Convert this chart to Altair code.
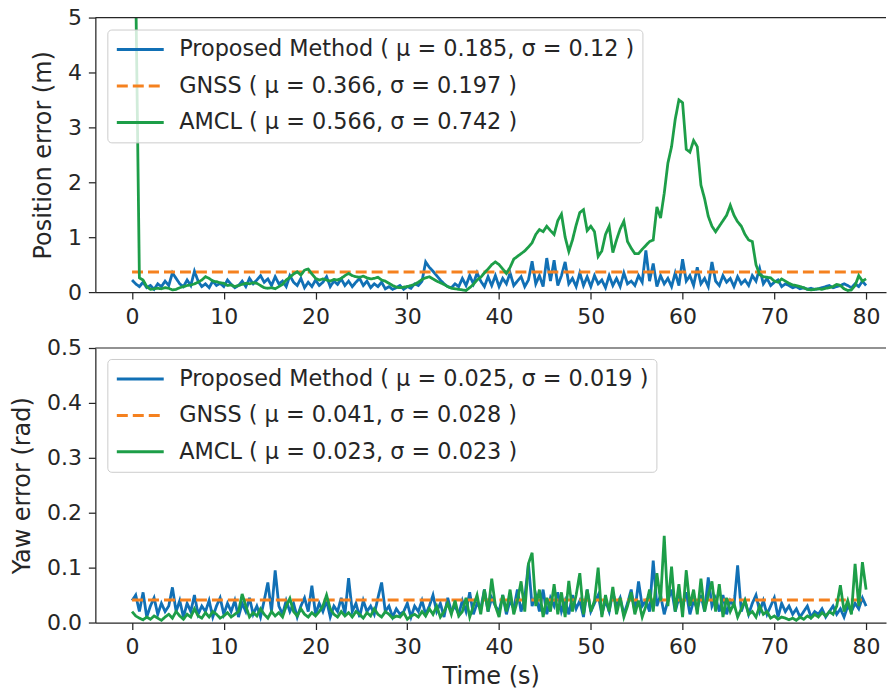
import altair as alt
import pandas as pd

# time grid (s), one sample every 0.4 s
time_s = [round(i * 0.4, 1) for i in range(201)]

# ---------------- position error (m) ----------------
pos_proposed = [
    0.22, 0.15, 0.10, 0.18, 0.08, 0.12, 0.05, 0.15, 0.10, 0.20,
    0.12, 0.35, 0.25, 0.15, 0.10, 0.22, 0.12, 0.38, 0.20, 0.10,
    0.15, 0.08, 0.20, 0.12, 0.16, 0.10, 0.22, 0.14, 0.08, 0.12,
    0.20, 0.10, 0.25, 0.15, 0.22, 0.30, 0.18, 0.24, 0.12, 0.28,
    0.15, 0.20, 0.10, 0.30, 0.18, 0.12, 0.25, 0.08, 0.18, 0.10,
    0.22, 0.12, 0.18, 0.28, 0.10, 0.20, 0.14, 0.24, 0.12, 0.20,
    0.10, 0.18, 0.25, 0.12, 0.20, 0.08, 0.15, 0.10, 0.18, 0.06,
    0.10, 0.05, 0.08, 0.12, 0.05, 0.10, 0.07, 0.15, 0.12, 0.20,
    0.55, 0.45, 0.38, 0.30, 0.22, 0.15, 0.10, 0.08, 0.15, 0.10,
    0.25, 0.12, 0.30, 0.15, 0.35, 0.20, 0.10, 0.28, 0.12, 0.30,
    0.10, 0.25, 0.15, 0.35, 0.12, 0.20, 0.28, 0.10, 0.22, 0.56,
    0.15, 0.30, 0.10, 0.62, 0.20, 0.58, 0.12, 0.30, 0.55, 0.15,
    0.25, 0.10, 0.35, 0.12, 0.28, 0.10, 0.30, 0.15, 0.22, 0.08,
    0.30, 0.12, 0.25, 0.10, 0.35, 0.15, 0.20, 0.12, 0.30, 0.18,
    0.76, 0.20, 0.52, 0.10, 0.30, 0.15, 0.25, 0.10, 0.35, 0.12,
    0.60, 0.20, 0.30, 0.12, 0.45, 0.15, 0.25, 0.10, 0.55, 0.20,
    0.12, 0.30, 0.18, 0.25, 0.10, 0.28, 0.15, 0.22, 0.12, 0.30,
    0.20, 0.43, 0.15, 0.25, 0.12, 0.18, 0.22, 0.10, 0.15, 0.12,
    0.08, 0.10, 0.06, 0.08, 0.05, 0.07, 0.05, 0.06, 0.08, 0.10,
    0.12, 0.08, 0.10, 0.12, 0.15, 0.12, 0.08, 0.15, 0.10, 0.20,
    0.12,
]
pos_amcl = [
    8.50, 5.60, 0.26, 0.22, 0.10, 0.05, 0.06, 0.07, 0.06, 0.08,
    0.07, 0.04, 0.05, 0.08, 0.10, 0.12, 0.13, 0.15, 0.18, 0.22,
    0.28, 0.25, 0.20, 0.19, 0.17, 0.16, 0.12, 0.13, 0.10, 0.12,
    0.14, 0.16, 0.15, 0.17, 0.16, 0.12, 0.08, 0.07, 0.08, 0.06,
    0.10, 0.14, 0.22, 0.27, 0.33, 0.37, 0.31, 0.40, 0.42, 0.33,
    0.25, 0.22, 0.24, 0.22, 0.20, 0.23, 0.22, 0.25, 0.30, 0.34,
    0.30, 0.28, 0.27, 0.29, 0.26, 0.24, 0.25, 0.27, 0.22, 0.20,
    0.16, 0.12, 0.09, 0.08, 0.09, 0.10, 0.12, 0.14, 0.18, 0.23,
    0.26, 0.28, 0.24, 0.20, 0.17, 0.14, 0.10, 0.07, 0.06, 0.05,
    0.04, 0.03, 0.08, 0.14, 0.22, 0.27, 0.35, 0.42, 0.50, 0.55,
    0.50, 0.42, 0.34, 0.45, 0.60, 0.65, 0.70, 0.75, 0.82, 0.90,
    1.05, 1.14, 1.10, 1.20, 1.12, 1.05, 1.30, 1.42, 1.00, 0.74,
    0.95, 1.22, 1.45, 1.50, 1.12, 1.20, 1.10, 0.65, 0.75, 1.05,
    1.20, 0.72, 0.95, 1.15, 1.29, 0.92, 0.80, 0.70, 0.70, 0.78,
    0.85, 0.92, 0.95, 1.55, 1.35, 1.80, 2.35, 2.65, 3.15, 3.50,
    3.45, 2.60, 2.55, 2.76, 2.65, 1.95, 1.70, 1.38, 1.20, 1.10,
    1.20, 1.30, 1.40, 1.58, 1.40, 1.28, 1.20, 1.05, 0.95, 0.92,
    0.50, 0.32, 0.28, 0.27, 0.26, 0.20, 0.18, 0.24, 0.20, 0.16,
    0.13, 0.12, 0.10, 0.08, 0.05, 0.04, 0.05, 0.06, 0.05, 0.07,
    0.08, 0.10, 0.14, 0.12, 0.06, 0.03, 0.04, 0.12, 0.30, 0.20,
    0.24,
]
pos_gnss_t = [0, 80]
pos_gnss = [0.366, 0.366]

# ---------------- yaw error (rad) ----------------
yaw_proposed = [
    0.040, 0.050, 0.020, 0.055, 0.010, 0.030, 0.045, 0.015, 0.035, 0.020,
    0.030, 0.064, 0.020, 0.040, 0.010, 0.035, 0.020, 0.050, 0.015, 0.030,
    0.020, 0.040, 0.010, 0.030, 0.045, 0.015, 0.035, 0.020, 0.040, 0.010,
    0.035, 0.020, 0.045, 0.015, 0.030, 0.010, 0.040, 0.073, 0.020, 0.095,
    0.030, 0.015, 0.040, 0.020, 0.035, 0.010, 0.030, 0.045, 0.020, 0.067,
    0.015, 0.035, 0.020, 0.040, 0.010, 0.030, 0.020, 0.045, 0.015, 0.081,
    0.020, 0.035, 0.010, 0.040, 0.020, 0.030, 0.015, 0.045, 0.073, 0.020,
    0.030, 0.010, 0.025, 0.015, 0.020, 0.035, 0.010, 0.030, 0.020, 0.040,
    0.015, 0.030, 0.050, 0.020, 0.035, 0.010, 0.045, 0.020, 0.030, 0.015,
    0.040, 0.020, 0.055, 0.015, 0.035, 0.025, 0.060, 0.020, 0.045, 0.030,
    0.020, 0.050, 0.015, 0.040, 0.025, 0.060, 0.020, 0.045, 0.107, 0.030,
    0.050, 0.020, 0.060, 0.015, 0.045, 0.030, 0.055, 0.020, 0.040, 0.015,
    0.050, 0.025, 0.040, 0.010, 0.060, 0.020, 0.035, 0.050, 0.015, 0.040,
    0.020, 0.055, 0.030, 0.045, 0.015, 0.035, 0.060, 0.020, 0.075, 0.030,
    0.040, 0.020, 0.113, 0.030, 0.050, 0.015, 0.040, 0.060, 0.020, 0.045,
    0.030, 0.055, 0.015, 0.040, 0.025, 0.050, 0.020, 0.082, 0.030, 0.045,
    0.020, 0.050, 0.015, 0.040, 0.030, 0.104, 0.020, 0.040, 0.015, 0.035,
    0.050, 0.020, 0.040, 0.015, 0.030, 0.045, 0.010, 0.035, 0.020, 0.030,
    0.015, 0.025, 0.010, 0.020, 0.030, 0.010, 0.020, 0.015, 0.025, 0.010,
    0.020, 0.030, 0.015, 0.025, 0.010, 0.030, 0.020, 0.035, 0.025, 0.045,
    0.030,
]
yaw_amcl = [
    0.020, 0.012, 0.008, 0.005, 0.010, 0.006, 0.012, 0.008, 0.004, 0.010,
    0.015, 0.008, 0.020, 0.012, 0.006, 0.015, 0.010, 0.025, 0.012, 0.008,
    0.018, 0.010, 0.020, 0.015, 0.008, 0.012, 0.018, 0.010, 0.015, 0.020,
    0.052, 0.030, 0.010, 0.018, 0.012, 0.025, 0.015, 0.008, 0.020, 0.012,
    0.018, 0.010, 0.030, 0.044, 0.020, 0.012, 0.025, 0.015, 0.010, 0.018,
    0.012, 0.020, 0.030, 0.050, 0.025, 0.015, 0.010, 0.020, 0.012, 0.018,
    0.010, 0.020, 0.015, 0.008, 0.018, 0.012, 0.025, 0.015, 0.010, 0.020,
    0.015, 0.008, 0.012, 0.010, 0.018, 0.006, 0.012, 0.015, 0.010, 0.020,
    0.012, 0.025, 0.015, 0.030, 0.010, 0.020, 0.035, 0.015, 0.040, 0.012,
    0.020, 0.045, 0.010, 0.030, 0.050, 0.015, 0.060, 0.020, 0.080, 0.030,
    0.010, 0.050, 0.020, 0.060, 0.015, 0.040, 0.075, 0.020, 0.107, 0.127,
    0.030, 0.060, 0.010, 0.045, 0.020, 0.070, 0.015, 0.055, 0.010, 0.076,
    0.020, 0.050, 0.090, 0.015, 0.060, 0.020, 0.040, 0.100, 0.010, 0.050,
    0.020, 0.065, 0.015, 0.045, 0.010, 0.030, 0.055, 0.015, 0.040, 0.010,
    0.030, 0.060, 0.020, 0.090, 0.040, 0.158, 0.030, 0.102, 0.020, 0.070,
    0.010, 0.095, 0.030, 0.060, 0.015, 0.080, 0.020, 0.050, 0.075, 0.020,
    0.070, 0.010, 0.045, 0.020, 0.035, 0.010, 0.025, 0.040, 0.015, 0.020,
    0.010, 0.030, 0.015, 0.020, 0.008, 0.012, 0.006, 0.010, 0.008, 0.005,
    0.008, 0.004, 0.010, 0.006, 0.012, 0.008, 0.015, 0.010, 0.018, 0.012,
    0.020, 0.015, 0.030, 0.068, 0.020, 0.040, 0.015, 0.107, 0.030, 0.110,
    0.060,
]
yaw_gnss_t = [0, 80]
yaw_gnss = [0.041, 0.041]

pos_labels = [
    "Proposed Method ( μ = 0.185, σ = 0.12 )",
    "GNSS ( μ = 0.366, σ = 0.197 )",
    "AMCL ( μ = 0.566, σ = 0.742 )",
]
yaw_labels = [
    "Proposed Method ( μ = 0.025, σ = 0.019 )",
    "GNSS ( μ = 0.041, σ = 0.028 )",
    "AMCL ( μ = 0.023, σ = 0.023 )",
]
colors = ["#1170b5", "#f5811f", "#1d9e48"]
dashes = [[1, 0], [11, 5], [1, 0]]
INK = "#262626"
W, H = 792, 275


def frame(labels, prop, gnss_t, gnss, amcl):
    rows = []
    for t, v in zip(time_s, prop):
        rows.append({"t": t, "v": v, "series": labels[0]})
    for t, v in zip(gnss_t, gnss):
        rows.append({"t": t, "v": v, "series": labels[1]})
    for t, v in zip(time_s, amcl):
        rows.append({"t": t, "v": v, "series": labels[2]})
    return pd.DataFrame(rows)


def panel(df, labels, ymax, yvals, yfmt, ytitle, title_x, show_xtitle, legend_y):
    leg = alt.Legend(
        title=None, orient="none", legendX=12, legendY=legend_y,
        symbolType="stroke", symbolSize=2209, symbolStrokeWidth=3,
        clipHeight=24, rowPadding=12.5, padding=8, symbolOffset=0,
        labelFontSize=22.4, labelOffset=14, labelLimit=0, labelColor=INK,
        labelFont="DejaVu Sans",
        fillColor="rgba(255,255,255,0.8)", strokeColor="#cccccc", cornerRadius=4,
    )
    color = alt.Color("series:N", scale=alt.Scale(domain=labels, range=colors), legend=leg)
    dash = alt.StrokeDash("series:N", scale=alt.Scale(domain=labels, range=dashes), legend=leg)
    x = alt.X(
        "t:Q", scale=alt.Scale(domain=[-4, 82.17], nice=False, zero=False),
        axis=alt.Axis(values=list(range(0, 81, 10)),
                      title="Time (s)" if show_xtitle else None, titlePadding=7),
    )
    y = alt.Y(
        "v:Q", scale=alt.Scale(domain=[0, ymax], nice=False),
        axis=alt.Axis(values=yvals, format=yfmt, title=ytitle,
                      titleX=title_x, titleY=H / 2, titleBaseline="middle",
                      titleAngle=-90, titleAlign="center"),
    )
    base = alt.Chart(df)
    layers = []
    for lab in labels:
        layers.append(
            base.transform_filter(alt.datum.series == lab)
            .mark_line(strokeWidth=2.8, clip=True)
            .encode(x=x, y=y, color=color, strokeDash=dash)
        )
    top_spine = alt.Chart(pd.DataFrame({"a": [0]})).mark_rule(
        color=INK, strokeWidth=1.25
    ).encode(x=alt.value(0), x2=alt.value(W), y=alt.value(0))
    return alt.layer(*layers, top_spine).properties(width=W, height=H)


top = panel(frame(pos_labels, pos_proposed, pos_gnss_t, pos_gnss, pos_amcl),
            pos_labels, 5, [0, 1, 2, 3, 4, 5], "d", "Position error (m)", -52, False, 12)
bottom = panel(frame(yaw_labels, yaw_proposed, yaw_gnss_t, yaw_gnss, yaw_amcl),
               yaw_labels, 0.5, [0, 0.1, 0.2, 0.3, 0.4, 0.5], ".1f", "Yaw error (rad)", -72.5, True, 11)

chart = (
    alt.vconcat(top, bottom, spacing=10)
    .resolve_scale(color="independent", strokeDash="independent")
    .properties(padding={"left": 2.5, "top": -2, "right": 0, "bottom": 0})
    .configure(font="DejaVu Sans")
    .configure_view(stroke=None)
    .configure_axis(
        grid=False, labelFont="DejaVu Sans", labelFontSize=22, labelColor=INK,
        titleFont="DejaVu Sans", titleFontSize=24, titleFontWeight="normal", titleColor=INK,
        tickSize=7, tickWidth=1.25, tickColor=INK, domainColor=INK, domainWidth=1.25,
        labelPadding=7,
    )
)

chart.save("out.html", embed_options={"renderer": "svg", "actions": False})
